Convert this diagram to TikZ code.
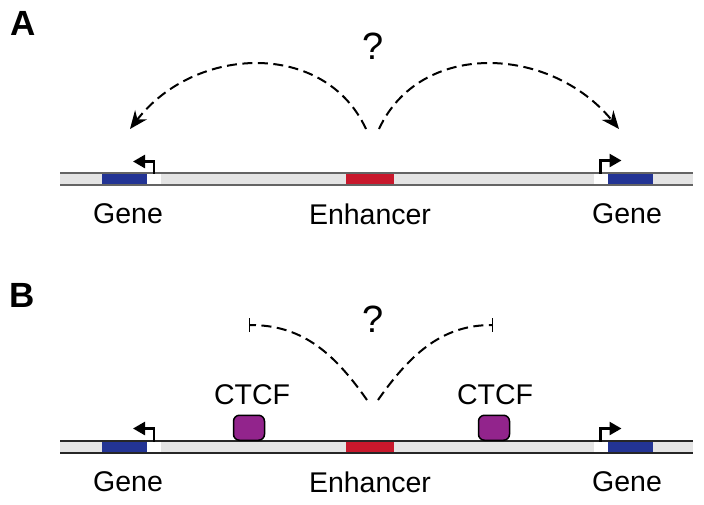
\documentclass[tikz,border=0pt]{standalone}
\usepackage{fontspec}
\setmainfont{Liberation Sans}
\usetikzlibrary{arrows.meta}
\definecolor{geneblue}{RGB}{35,52,148}
\definecolor{enhred}{RGB}{200,24,44}
\definecolor{ctcfpurple}{RGB}{146,36,140}
\definecolor{dnafill}{RGB}{228,228,228}
\definecolor{dnaline}{RGB}{100,100,100}
\tikzset{
  box/.style={inner sep=0pt,minimum height=10.6pt},
  genebox/.style={box,fill=geneblue,minimum width=45pt},
  tssbox/.style={box,fill=white,minimum width=14pt},
  enhbox/.style={box,fill=enhred,minimum width=48pt},
  ctcf/.style={draw=black,line width=1.5pt,fill=ctcfpurple,rounded corners=6pt,minimum width=31pt,minimum height=25pt,inner sep=0pt},
  lbl/.style={font=\fontsize{28.5}{32}\selectfont},
  panel/.style={font=\fontsize{35}{38}\selectfont\bfseries},
  quest/.style={font=\fontsize{38}{42}\selectfont},
  loop/.style={dash pattern=on 10pt off 5.5pt,line width=2pt},
  promoter/.style={line width=2.5pt,-{Triangle[length=12pt,width=13pt]}}
}
\begin{document}
\begin{tikzpicture}[x=1pt,y=-1pt]
\useasboundingbox (0,0) rectangle (704,504);
\node[panel] (labA) at (23,23) {A};
\node[panel] (labB) at (22,295) {B};
\fill[dnafill] (60,173) rectangle (693,185);
\draw[dnaline,line width=1.3pt] (60,173) -- (693,173) (60,185) -- (693,185);
\node[genebox] (geneLA) at (124.5,179) {};
\node[tssbox] (tssLA) at (154,179) {};
\node[enhbox] (enhA) at (370,179) {};
\node[tssbox] (tssRA) at (600.5,179) {};
\node[genebox] (geneRA) at (630.5,179) {};
\draw[promoter] (tssLA.north) -- ++(0,-12) -- ++(-21,0);
\draw[promoter] (tssRA.north) -- ++(0,-13) -- ++(21,0);
\node[lbl] (txtLA) at (128,214) {Gene};
\node[lbl] (txtEA) at (370,214) {Enhancer};
\node[lbl] (txtRA) at (627,214) {Gene};
\node[quest] (qA) at (373,46) {?};
\coordinate (srcLA) at (366,129);
\coordinate (srcRA) at (379,129);
\draw[loop,-{Stealth[length=18pt,width=15pt]}] (srcLA) .. controls (325,40) and (195,45) .. (130,129);
\draw[loop,-{Stealth[length=18pt,width=15pt]}] (srcRA) .. controls (420,40) and (550,45) .. (619,129);
\fill[dnafill] (60,441) rectangle (693,453);
\draw[black!85,line width=1.3pt] (60,441) -- (693,441) (60,453) -- (693,453);
\node[genebox] (geneLB) at (124.5,447) {};
\node[tssbox] (tssLB) at (154,447) {};
\node[enhbox] (enhB) at (370,447) {};
\node[tssbox] (tssRB) at (600.5,447) {};
\node[genebox] (geneRB) at (630.5,447) {};
\draw[promoter] (tssLB.north) -- ++(0,-13) -- ++(-21,0);
\draw[promoter] (tssRB.north) -- ++(0,-13) -- ++(21,0);
\node[ctcf,anchor=south] (ctcfL) at (249,441) {};
\node[ctcf,anchor=south] (ctcfR) at (494,441) {};
\node[lbl] (txtCL) at (252,395) {CTCF};
\node[lbl] (txtCR) at (495,395) {CTCF};
\node[lbl] (txtLB) at (128,482) {Gene};
\node[lbl] (txtEB) at (370,482) {Enhancer};
\node[lbl] (txtRB) at (627,482) {Gene};
\node[quest] (qB) at (373,319) {?};
\coordinate (srcLB) at (367,400);
\coordinate (srcRB) at (378,400);
\draw[loop,-{Bar[width=14pt,line width=1.3pt]}] (srcLB) .. controls (332,350) and (300,325) .. (249,325);
\draw[loop,-{Bar[width=14pt,line width=1.3pt]}] (srcRB) .. controls (413,350) and (445,325) .. (493,325);
\end{tikzpicture}
\end{document}
